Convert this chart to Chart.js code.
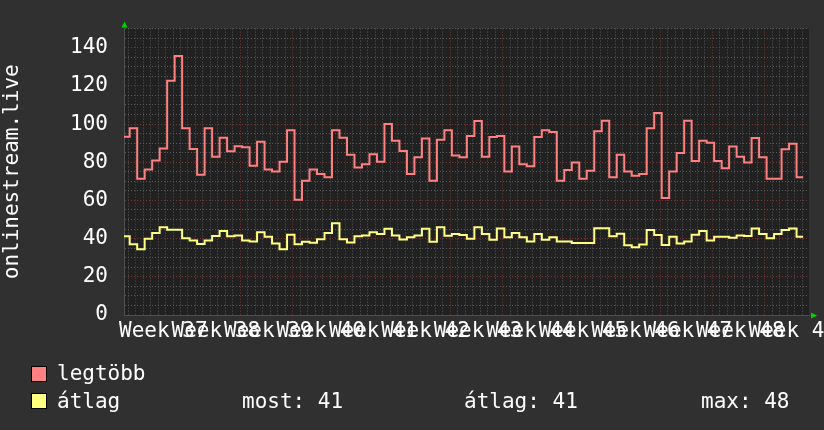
<!DOCTYPE html>
<html>
<head>
<meta charset="utf-8">
<script src="https://cdn.jsdelivr.net/npm/chart.js@4/dist/chart.umd.min.js"></script>
<style>
html,body{margin:0;padding:0;background:#303030;}
#wrap{position:relative;width:824px;height:430px;overflow:hidden;background:#303030;}
#c{position:absolute;left:0;top:0;}
.lg{position:absolute;font-family:"DejaVu Sans Mono",monospace;font-size:21px;line-height:24px;color:#ffffff;white-space:pre;}
.box{position:absolute;width:14px;height:14px;border:1px solid #000;}
</style>
</head>
<body>
<div id="wrap">
<canvas id="c" width="824" height="430"></canvas>
<div class="box" id="b0" style="left:31px;top:366px;"></div>
<div class="lg" id="n0" style="left:57px;top:361px;"></div>
<div class="box" id="b1" style="left:31px;top:393px;"></div>
<div class="lg" id="n1" style="left:57px;top:389px;"></div>
<div class="lg" id="s0" style="left:242px;top:389px;"></div>
<div class="lg" id="s1" style="left:464px;top:389px;"></div>
<div class="lg" id="s2" style="left:701px;top:389px;"></div>
</div>
<script>
// ---- data (one value per day, first interval is partial) ----
const maxSeries = [93.3,97.8,71.3,76.2,80.9,87.2,122.7,135.7,97.8,87.0,
  73.4,97.8,82.9,92.8,85.7,88.4,87.8,78.2,90.8,76.2,
  75.2,80.2,96.8,60.3,70.3,76.2,73.9,72.2,96.8,92.8,
  83.9,77.2,78.9,84.2,80.2,100.1,91.3,85.9,73.9,82.6,
  92.5,70.3,91.8,96.8,83.5,82.6,93.7,101.6,82.9,93.2,
  93.7,75.2,88.2,78.9,77.9,93.2,96.8,95.8,70.3,75.9,
  79.9,71.3,75.6,96.3,101.8,72.2,83.9,75.2,72.9,73.9,
  97.8,105.8,61.3,75.2,84.9,101.8,80.6,91.3,90.2,80.6,
  76.9,88.2,82.9,79.9,92.7,82.6,71.3,71.3,86.8,89.7,72.2];
const avgSeries = [41.2,37.0,34.4,39.9,42.9,46.0,44.7,44.7,40.2,39.0,
  37.2,39.0,41.4,44.0,41.2,41.7,39.0,38.5,43.3,41.0,
  37.4,34.4,42.0,37.0,38.4,37.9,39.7,43.0,48.0,39.7,
  38.0,41.2,41.7,43.3,42.4,45.2,41.7,39.5,40.7,41.7,
  45.2,38.4,46.0,41.5,42.4,41.9,39.9,46.0,42.4,39.4,
  45.3,40.7,42.9,40.7,38.5,42.4,39.4,40.7,38.5,38.5,
  37.7,37.7,37.7,45.5,45.5,41.2,42.5,36.5,35.5,36.9,
  44.5,41.9,36.7,41.0,37.5,38.5,42.0,44.0,39.0,41.0,
  41.0,40.4,41.7,41.4,45.3,42.4,40.2,42.4,44.5,45.3,41.0];
const weekLabels = ['Week 37','Week 38','Week 39','Week 40','Week 41','Week 42','Week 43',
  'Week 44','Week 45','Week 46','Week 47','Week 48','Week 49'];
const yTickLabels = [0,20,40,60,80,100,120,140];
const seriesNames = ['legtöbb','átlag'];
const seriesColors = ['#ff8080','#ffff80'];
const axisTitle = 'onlinestream.live';
const statNames = ['most','átlag','max'];

// ---- time axis (days) ----
const firstIntervalStart = -0.76;
const lastIntervalEnd = 89.88;
const axisMin = -0.76, axisMax = 90.66;
const firstWeekBoundary = 7.78;
const labelShift = -3.29;

// each value holds over [start of its day, start of next day]
function toPoints(vals){
  const pts = vals.map((v,i)=>({x: i===0 ? firstIntervalStart : i-1, y: v}));
  pts.push({x: lastIntervalEnd, y: vals[vals.length-1]});
  return pts;
}

const xTicks = [];
for (let d = firstWeekBoundary - Math.floor(firstWeekBoundary - axisMin); d <= axisMax; d += 1) {
  const n = Math.round(d - firstWeekBoundary);
  xTicks.push({value: d, kind: (n % 7 === 0) ? 'major' : 'minor', lbl: ''});
}
weekLabels.forEach((l,m)=>xTicks.push({value: firstWeekBoundary + labelShift + 7*m, kind: 'label', lbl: l}));
xTicks.sort((a,b)=>a.value-b.value);

const yTicks = [];
for (let v = 0; v <= 150; v += 5) {
  yTicks.push({value: v, kind: v % 20 === 0 ? 'major' : 'minor', lbl: yTickLabels.includes(v) ? String(v) : ''});
}

const MINOR = '#5a5a5a', MAJOR = '#7c3636';
const FONT = {family: 'DejaVu Sans Mono', size: 21};

const deco = {
  id: 'deco',
  beforeDraw(chart){
    const {ctx, chartArea: a} = chart;
    ctx.save();
    ctx.fillStyle = '#212121';
    ctx.fillRect(a.left, a.top, a.right - a.left, a.bottom - a.top);
    ctx.restore();
  },
  afterDraw(chart){
    const {ctx, chartArea: a} = chart;
    ctx.save();
    ctx.fillStyle = '#00d000';
    const lx = a.left + 0.5;
    ctx.beginPath(); ctx.moveTo(lx-3, a.top-1); ctx.lineTo(lx+3, a.top-1); ctx.lineTo(lx, a.top-7); ctx.closePath(); ctx.fill();
    const by = a.bottom + 0.5;
    ctx.beginPath(); ctx.moveTo(a.right+2, by-3); ctx.lineTo(a.right+2, by+3); ctx.lineTo(a.right+8, by); ctx.closePath(); ctx.fill();
    ctx.restore();
  }
};

new Chart(document.getElementById('c'), {
  type: 'line',
  data: {
    datasets: [
      {label: seriesNames[0], data: toPoints(maxSeries), borderColor: seriesColors[0], borderWidth: 2, stepped: 'before', pointRadius: 0, fill: false},
      {label: seriesNames[1], data: toPoints(avgSeries), borderColor: seriesColors[1], borderWidth: 2, stepped: 'before', pointRadius: 0, fill: false}
    ]
  },
  options: {
    responsive: false,
    animation: false,
    devicePixelRatio: 1,
    layout: {autoPadding: false, padding: {left: 0, top: 14, right: 15, bottom: 0}},
    plugins: {legend: {display: false}, tooltip: {enabled: false}},
    scales: {
      x: {
        type: 'linear', min: axisMin, max: axisMax,
        afterBuildTicks: s => { s.ticks = xTicks.map(t=>({...t})); },
        afterFit: s => { s.height = 115; },
        ticks: {autoSkip: false, maxRotation: 0, minRotation: 0, padding: 3.5, color: '#ffffff', font: FONT,
          callback: (v,i,ticks) => ticks[i].lbl},
        grid: {drawTicks: false, lineWidth: 1,
          color: c => c.tick.kind === 'label' ? 'rgba(0,0,0,0)' : (c.tick.kind === 'major' ? MAJOR : MINOR)},
        border: {display: true, color: '#505050', width: 1, dash: [1,2]}
      },
      y: {
        type: 'linear', min: 0, max: 150,
        afterBuildTicks: s => { s.ticks = yTicks.map(t=>({...t})); },
        afterFit: s => { s.width = 124; },
        ticks: {autoSkip: false, padding: 16, color: '#ffffff', font: FONT,
          callback: (v,i,ticks) => ticks[i].lbl},
        grid: {drawTicks: false, lineWidth: 1,
          color: c => c.tick.kind === 'major' ? MAJOR : MINOR},
        border: {display: true, color: '#505050', width: 1, dash: [1,2]},
        title: {display: true, text: axisTitle, color: '#ffffff', font: FONT, padding: {top: 0, bottom: 0}}
      }
    }
  },
  plugins: [deco]
});

// ---- legend ----
const lastVal = avgSeries[avgSeries.length-1];
const meanVal = avgSeries.reduce((a,b)=>a+b,0)/avgSeries.length;
const maxVal = Math.max(...avgSeries);
seriesNames.forEach((n,i)=>{
  document.getElementById('n'+i).textContent = n;
  document.getElementById('b'+i).style.background = seriesColors[i];
});
[lastVal, meanVal, maxVal].forEach((v,i)=>{
  document.getElementById('s'+i).textContent = statNames[i] + ': ' + Math.round(v);
});
</script>
</body>
</html>
